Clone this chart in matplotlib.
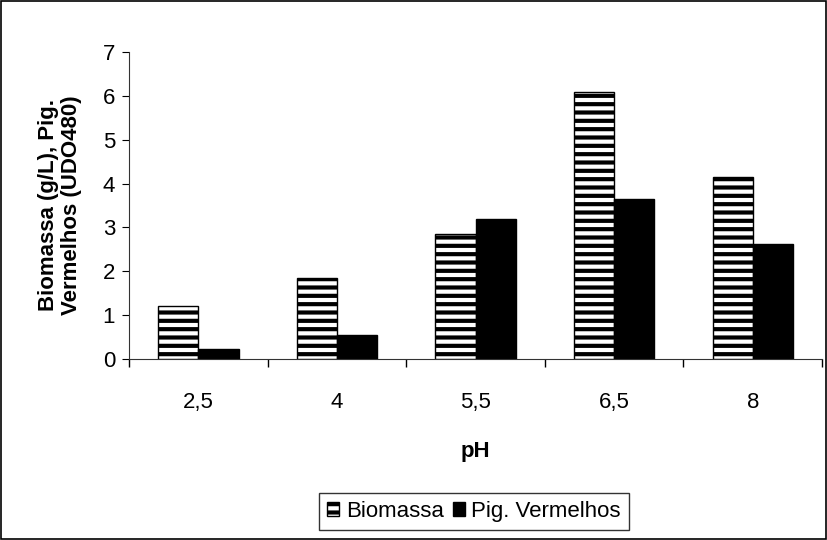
import matplotlib.pyplot as plt
import numpy as np

plt.rcParams['font.family'] = ['Liberation Sans', 'DejaVu Sans']
plt.rcParams['hatch.linewidth'] = 3.0

# data
ph_labels = ['2,5', '4', '5,5', '6,5', '8']
biomassa = [1.22, 1.85, 2.85, 6.08, 4.15]
pig_vermelhos = [0.24, 0.55, 3.2, 3.65, 2.62]

fig = plt.figure(figsize=(8.27, 5.40), dpi=100)
ax = fig.add_axes([0.156, 0.335, 0.838, 0.569])

x = np.arange(len(ph_labels))
w = 0.29
ax.bar(x - w / 2, biomassa, width=w, facecolor='white', edgecolor='black',
       hatch='--', linewidth=1.0, label='Biomassa')
ax.bar(x + w / 2, pig_vermelhos, width=w, facecolor='black', edgecolor='black',
       linewidth=1.0, label='Pig. Vermelhos')

ax.set_xlim(-0.5, len(ph_labels) - 0.5)
ax.set_ylim(0, 7)
ax.set_yticks(range(0, 8))
ax.set_xticks(x)
ax.set_xticklabels(ph_labels)
ax.set_xticks(np.arange(-0.5, len(ph_labels)), minor=True)
ax.tick_params(axis='x', which='major', length=0, pad=24, labelsize=16)
ax.tick_params(axis='x', which='minor', length=6, direction='out', width=1)
ax.tick_params(axis='y', length=5, direction='out', labelsize=16, pad=5)

ax.spines['top'].set_visible(False)
ax.spines['right'].set_visible(False)
ax.spines['left'].set_color('#333333')
ax.spines['bottom'].set_color('#333333')

ax.set_xlabel('pH', fontsize=16, fontweight='bold', labelpad=20)
ax.set_ylabel('Biomassa (g/L), Pig.\nVermelhos (UDO480)', fontsize=16,
              fontweight='bold', labelpad=15, linespacing=1.1)

leg = fig.legend(loc='center', bbox_to_anchor=(0.573, 0.053), ncol=2,
                 fontsize=16, frameon=True, fancybox=False, edgecolor='black',
                 handlelength=0.55, handleheight=0.55, handletextpad=0.3,
                 columnspacing=0.4, borderpad=0.35)
leg.get_frame().set_linewidth(1.0)

# outer border of the chart area
fig.patches.append(plt.Rectangle((0.001, 0.001), 0.998, 0.997, transform=fig.transFigure,
                                 fill=False, edgecolor='black', linewidth=1.2))

fig.savefig('out.png', dpi=100)
